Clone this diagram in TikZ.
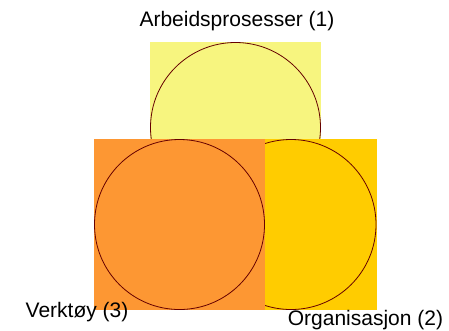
\documentclass[tikz,border=0pt]{standalone}
\usepackage{fontspec}
\setmainfont{Liberation Sans}
\definecolor{arbeid}{RGB}{247,245,127}
\definecolor{organ}{RGB}{255,204,0}
\definecolor{verk}{RGB}{253,151,51}
\definecolor{rim}{RGB}{102,0,0}
\begin{document}
\begin{tikzpicture}[
    x=1pt, y=-1pt,
    setbox/.style={rectangle, inner sep=0pt, minimum width=171pt, minimum height=171pt},
    setring/.style={circle, draw=rim, line width=0.8pt, inner sep=0pt, minimum size=170pt},
    tag/.style={font=\fontsize{21}{24}\selectfont, inner sep=0pt}
    ]
	\useasboundingbox (0,0) rectangle (449,330);
	\node [setbox, fill=arbeid] (box1) at (235.5,127.5) {};
	\node [setring] (ring1) at (box1.center) {};
	\node [setbox, fill=organ] (box2) at (291,224.5) {};
	\node [setring] (ring2) at (box2.center) {};
	\node [setbox, fill=verk] (box3) at (179.5,224.5) {};
	\node [setring] (ring3) at (box3.center) {};
	\node [tag] (lab1) at (237,21) {Arbeidsprosesser (1)};
	\node [tag] (lab3) at (77,312) {Verktøy (3)};
	\node [tag] (lab2) at (365.5,320) {Organisasjon (2)};
  \end{tikzpicture}
\end{document}
